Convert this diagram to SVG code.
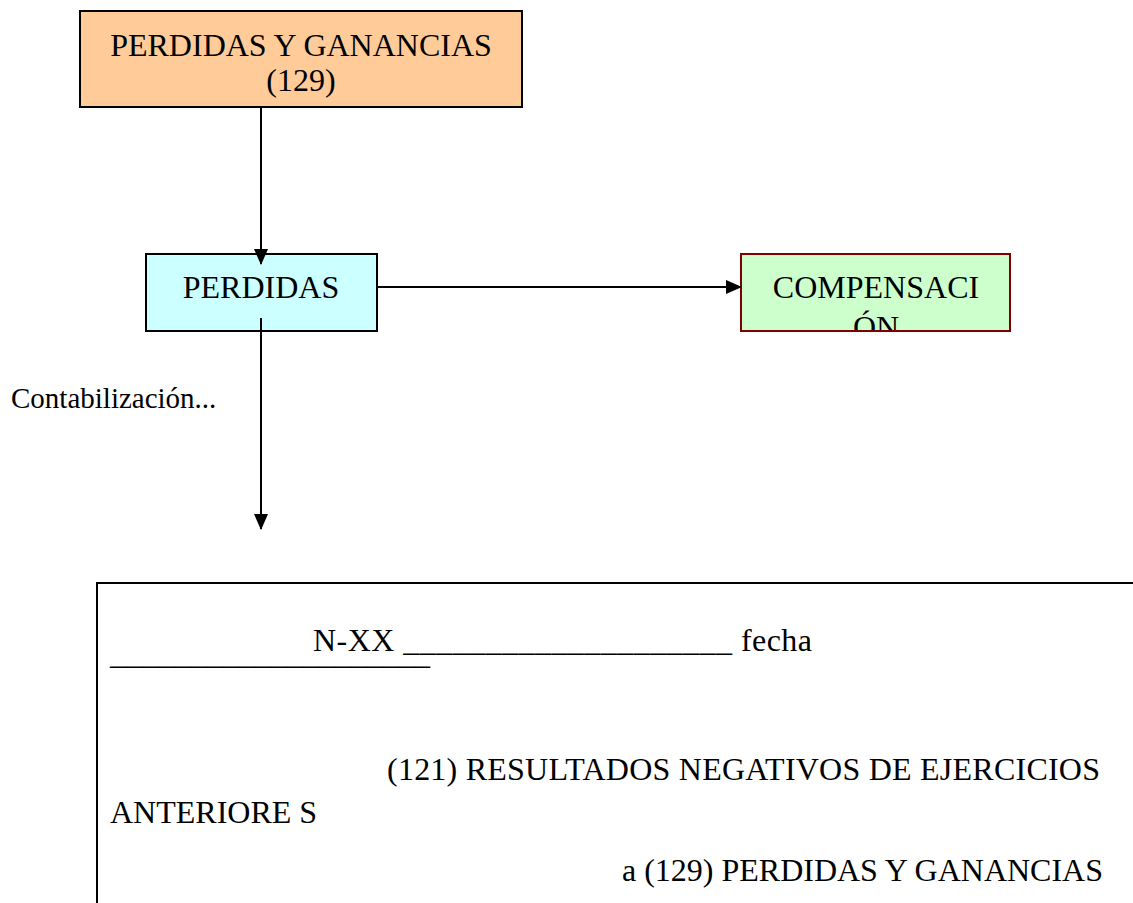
<svg xmlns="http://www.w3.org/2000/svg" width="1133" height="903" viewBox="0 0 1133 903">
<style>
text { font-family: "Liberation Serif", "Times New Roman", serif; fill: #000; }
.t { font-size: 32px; }
.c { text-anchor: middle; }
.conn { stroke: #000; stroke-width: 2; fill: none; }
</style>
<defs>
<marker id="ah" markerWidth="16" markerHeight="14" refX="15" refY="7" orient="auto" markerUnits="userSpaceOnUse" viewBox="0 0 16 14">
<path d="M0,0 L16,7 L0,14 z" fill="#000"/>
</marker>
<clipPath id="cc"><rect x="742" y="255" width="267" height="75"/></clipPath>
</defs>
<rect width="1133" height="903" fill="#fff"/>
<g id="node-pyg">
<rect x="80" y="11" width="442" height="96" fill="#FFCC99" stroke="#000" stroke-width="2"/>
<text class="t c" x="301" y="56">PERDIDAS Y GANANCIAS</text>
<text class="t c" x="301" y="91">(129)</text>
</g>
<g id="node-perdidas">
<rect x="146" y="254" width="231" height="77" fill="#CCFFFF" stroke="#000" stroke-width="2"/>
<text class="t c" x="261" y="298">PERDIDAS</text>
</g>
<g id="node-compensacion">
<rect x="741" y="254" width="269" height="77" fill="#CCFFCC" stroke="#800000" stroke-width="2"/>
<g clip-path="url(#cc)">
<text class="t c" x="876" y="298">COMPENSACI</text>
<text class="t c" x="876" y="338">ÓN</text>
</g>
</g>
<g id="label-contab">
<text x="11" y="408" font-size="29">Contabilización...</text>
</g>
<g id="node-asiento">
<path d="M1133,583 L97,583 L97,903" fill="none" stroke="#000" stroke-width="2"/>
<text class="t" x="313" y="651" textLength="499">N-XX ____________________ fecha</text>
<text class="t" x="110" y="664" textLength="320">____________________</text>
<text class="t" x="387" y="780" textLength="713">(121) RESULTADOS NEGATIVOS DE EJERCICIOS</text>
<text class="t" x="110" y="823">ANTERIORE S</text>
<text class="t" x="622" y="881" textLength="481">a (129) PERDIDAS Y GANANCIAS</text>
</g>
<g id="connectors">
<line class="conn" x1="261" y1="107" x2="261" y2="264" marker-end="url(#ah)"/>
<line class="conn" x1="377" y1="287" x2="741" y2="287" marker-end="url(#ah)"/>
<line class="conn" x1="261" y1="318" x2="261" y2="529" marker-end="url(#ah)"/>
</g>
</svg>
